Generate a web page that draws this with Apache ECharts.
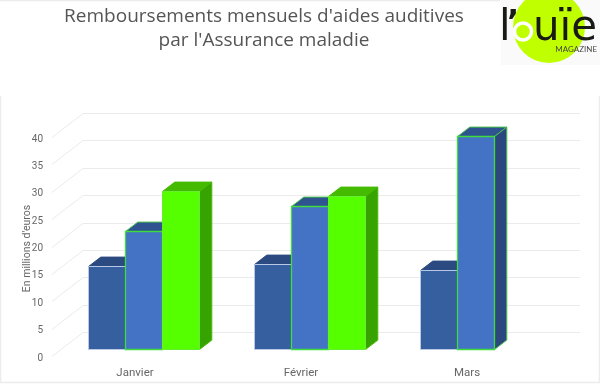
<!DOCTYPE html>
<html><head><meta charset="utf-8">
<style>html,body{margin:0;padding:0;background:#fff}#c{width:600px;height:384px}</style>
<script src="https://cdn.jsdelivr.net/npm/echarts@6/dist/echarts.min.js"></script>
</head><body><div id="c"></div>
<script>
const categories = ['Janvier', 'Février', 'Mars'];
const ticks = [0, 5, 10, 15, 20, 25, 30, 35, 40];
const series1 = [15.2, 15.5, 14.4];
const series2 = [21.5, 26.1, 38.9];
const series3 = [28.8, 27.9, null];
const titleLines = "Remboursements mensuels d'aides auditives\npar l'Assurance maladie";
const yName = "En millions d'euros";

const BW = 37, DX = 12.3, DY = 9.4, SHIFT_X = 8, SHIFT_Y = 9;
function bar(idx, face, top, side, stroke, topStroke, width) {
  return function (params, api) {
    const v = api.value(1);
    if (v == null || isNaN(v)) return null;
    const p = api.coord([api.value(0), v]);
    const b = api.coord([api.value(0), 0]);
    const x = Math.round(p[0] + SHIFT_X - BW * 1.5 + idx * BW) + 0.5;
    const y = Math.round(p[1] - SHIFT_Y) + 0.5;
    const y0 = Math.round(b[1] - SHIFT_Y) + 0.5;
    return { type: 'group', children: [
      { type: 'polygon', shape: { points: [[x, y], [x + DX, y - DY], [x + BW + DX, y - DY], [x + BW, y]] },
        style: { fill: top, stroke: topStroke, lineWidth: 1 } },
      { type: 'polygon', shape: { points: [[x + BW, y], [x + BW + DX, y - DY], [x + BW + DX, y0 - DY], [x + BW, y0]] },
        style: { fill: side, stroke: topStroke, lineWidth: 1 } },
      { type: 'rect', shape: { x: x, y: y, width: BW, height: y0 - y },
        style: { fill: face, stroke: stroke, lineWidth: width } }
    ] };
  };
}
function wall(params, api) {
  const p = api.coord([0, api.value(0)]);
  const cs = params.coordSys;
  const x0 = cs.x, y = Math.round(p[1]) - 1.5;
  return { type: 'polyline',
    shape: { points: [[x0, y], [x0 + 31, y - 24], [x0 + cs.width + 30, y - 24]] },
    style: { fill: 'none', stroke: '#ebebeb', lineWidth: 1 } };
}
const chart = echarts.init(document.getElementById('c'), null, { renderer: 'canvas', width: 600, height: 384 });
const pairs = a => a.map((v, i) => [i, v]);
const frame = { stroke: '#ececec', lineWidth: 1.5 };
const ink = '#1a1a14';
chart.setOption({
  animation: false,
  backgroundColor: '#fff',
  tooltip: { show: false },
  grid: { left: 52, width: 498, top: 139, height: 219 },
  xAxis: { type: 'category', data: categories,
    axisLine: { show: false }, axisTick: { show: false }, splitLine: { show: false },
    axisLabel: { color: '#666', fontSize: 11.5, fontFamily: 'Roboto', margin: 9 } },
  yAxis: { type: 'value', min: 0, max: 40, interval: 5,
    name: yName, nameLocation: 'middle', nameGap: 19, nameRotate: 90, nameMoveOverlap: false,
    nameTextStyle: { color: '#666', fontSize: 10.5, fontFamily: 'Roboto' },
    axisLine: { show: false }, axisTick: { show: false }, splitLine: { show: false },
    axisLabel: { color: '#666', fontSize: 10, fontFamily: 'Roboto', margin: 9 } },
  series: [
    { type: 'custom', z: 1, clip: false, silent: true, coordinateSystem: 'cartesian2d', encode: { y: 0 }, data: ticks.map(t => [t]), renderItem: wall },
    { type: 'custom', z: 2, clip: false, silent: true, encode: { x: 0, y: 1 }, data: pairs(series1),
      renderItem: bar(0, '#365fa0', '#2c4a82', '#2c4a82', '#b9c8e4', '#2c4a82', 1) },
    { type: 'custom', z: 3, clip: false, silent: true, encode: { x: 0, y: 1 }, data: pairs(series2),
      renderItem: bar(1, '#4472c4', '#2f5290', '#2b477e', '#3fdc3f', '#45c048', 1.3) },
    { type: 'custom', z: 4, clip: false, silent: true, encode: { x: 0, y: 1 }, data: pairs(series3),
      renderItem: bar(2, '#55ff00', '#44bb00', '#37a300', '#66ee33', '#44bb00', 1) }
  ],
  graphic: [
    { type: 'line', silent: true, shape: { x1: 0, y1: 0.5, x2: 500, y2: 0.5 }, style: frame },
    { type: 'line', silent: true, shape: { x1: 0.5, y1: 96, x2: 0.5, y2: 383 }, style: frame },
    { type: 'line', silent: true, shape: { x1: 599.5, y1: 96, x2: 599.5, y2: 383 }, style: frame },
    { type: 'line', silent: true, shape: { x1: 0, y1: 382.5, x2: 600, y2: 382.5 }, style: frame },
    { type: 'text', silent: true, x: 264, y: 29, style: { text: titleLines, fill: '#555', font: '500 19px "Open Sans"', align: 'center', verticalAlign: 'middle', lineHeight: 24 } },
    { type: 'rect', silent: true, shape: { x: 501, y: 0, width: 99, height: 65 }, style: { fill: '#fafafa' } },
    { type: 'circle', silent: true, shape: { cx: 549, cy: 27, r: 36 }, style: { fill: '#c0ff00' } },
    { type: 'rect', silent: true, shape: { x: 0, y: -10, width: 600, height: 10 }, style: { fill: '#fff' } },
    { type: 'circle', silent: true, shape: { cx: 523, cy: 31.5, r: 8.5 }, style: { fill: 'none', stroke: '#fff', lineWidth: 3.5 } },
    { type: 'text', silent: true, x: 499, y: 50, style: { text: 'l', fill: ink, font: '400 42px "DejaVu Sans"', align: 'left', verticalAlign: 'bottom' } },
    { type: 'text', silent: true, x: 507, y: 40, style: { text: '’', fill: ink, font: '700 32px "DejaVu Sans"', align: 'left', verticalAlign: 'bottom' } },
    { type: 'text', silent: true, x: 533, y: 50, style: { text: 'uïe', fill: ink, font: '400 42px "DejaVu Sans"', align: 'left', verticalAlign: 'bottom' } },
    { type: 'text', silent: true, x: 597, y: 49, style: { text: 'MAGAZINE', fill: '#444', font: '400 8px Lato', align: 'right', verticalAlign: 'middle' } }
  ]
});
</script></body></html>
